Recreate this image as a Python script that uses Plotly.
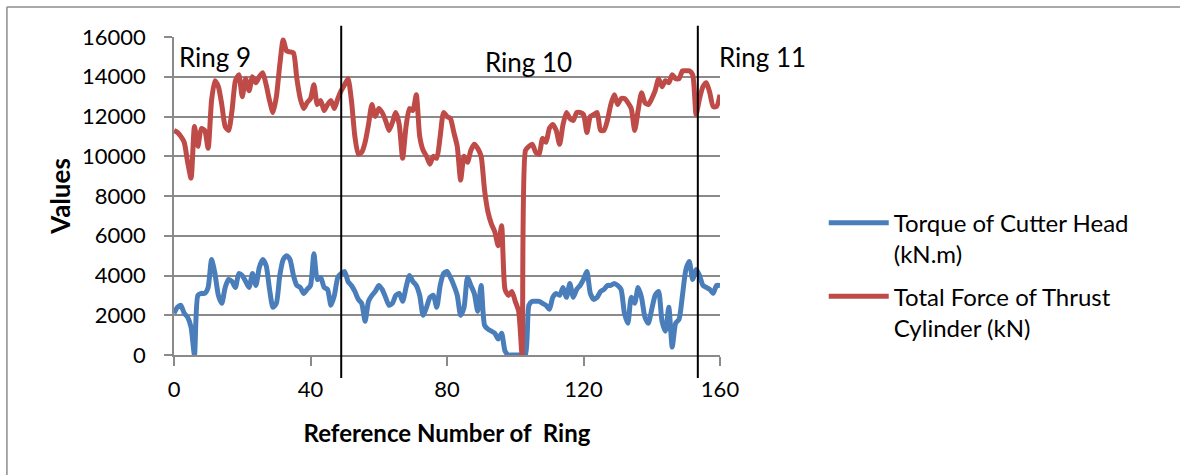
import plotly.graph_objects as go

# ---------------- data ----------------
ring_no = list(range(161))

torque = [
    2100, 2400, 2500, 2100, 1900, 1400, 0, 3000, 3100, 3100,
    3400, 4800, 4100, 3000, 2600, 3400, 3800, 3700, 3400, 4100,
    4000, 3700, 3400, 4100, 3500, 4400, 4800, 4500, 3300, 2400,
    2600, 4000, 4800, 5000, 4800, 4000, 3500, 3400, 3100, 3300,
    3500, 5100, 3800, 3900, 3400, 3300, 2500, 3000, 3900, 4100,
    4200, 3700, 3500, 3200, 2800, 2600, 1700, 2700, 3000, 3200,
    3500, 3300, 2900, 2500, 2600, 3000, 3100, 2700, 3400, 4000,
    3700, 3500, 3000, 2000, 2400, 2900, 3000, 2400, 3500, 4100,
    4200, 3900, 3500, 3000, 2000, 2400, 3900, 3500, 3100, 2200,
    3500, 1500, 1300, 1200, 1100, 800, 1100, 200, 0, 0,
    0, 0, 0, 0, 2500, 2700, 2700, 2700, 2600, 2500,
    2300, 2900, 3100, 3000, 3400, 2900, 3600, 2900, 3300, 3500,
    3800, 4200, 3100, 2800, 2900, 3200, 3300, 3500, 3500, 3600,
    3500, 3300, 2100, 1600, 2900, 2600, 3400, 2900, 1900, 1600,
    2300, 3000, 3200, 1700, 1200, 2400, 400, 1600, 1800, 3000,
    4300, 4700, 3800, 4300, 4000, 3500, 3400, 3300, 3100, 3500,
    3500,
]

thrust = [
    11300, 11200, 11000, 10700, 9700, 8900, 11500, 10500, 11400, 11300,
    10400, 12800, 13800, 13500, 12600, 11500, 11300, 12300, 13800, 14100,
    13000, 13900, 13300, 14000, 13700, 14000, 14200, 13600, 12800, 12200,
    13000, 14600, 15850, 15300, 15250, 15200, 13900, 12900, 12400, 12700,
    12900, 13600, 12600, 12800, 12300, 12600, 12800, 12400, 12900, 13300,
    13600, 13900, 12800, 11000, 10100, 10200, 10700, 11600, 12600, 12000,
    12400, 12200, 11800, 11300, 11700, 12200, 11600, 9900, 11500, 12400,
    12300, 13100, 11000, 10300, 10000, 9600, 10000, 9900, 11000, 12200,
    12000, 11900, 11200, 10500, 8800, 10000, 9700, 10300, 10600, 10400,
    10000, 8300, 7200, 6600, 6200, 5500, 6500, 3300, 3000, 3200,
    2700, 2200, 0, 10300, 10500, 10600, 10200, 10100, 10900, 10700,
    11400, 11600, 11300, 10600, 11600, 12200, 11900, 11800, 12200, 12200,
    12100, 11200, 12000, 12100, 12200, 11300, 11300, 11800, 12600, 13100,
    12600, 12900, 12900, 12700, 12400, 11300, 12300, 13200, 12700, 12600,
    12900, 13300, 13900, 13500, 13800, 13700, 14100, 13900, 13900, 14300,
    14300, 14300, 14100, 12100, 12900, 13500, 13700, 13200, 12500, 12500,
    13100,
]

ring_bounds = [49, 153.5]
ring_names = ["Ring 9", "Ring 10", "Ring 11"]
series_names = ["Torque of Cutter Head<br>(kN.m)", "Total Force of Thrust<br>Cylinder (kN)"]
x_tick_vals = [0, 40, 80, 120, 160]
y_tick_vals = [0, 2000, 4000, 6000, 8000, 10000, 12000, 14000, 16000]

# ---------------- figure ----------------
FONT = "Lato, 'Open Sans', sans-serif"
BLUE = "#4A7EBB"
RED = "#BE4B48"
GRID = "#8a8a8a"
X_MAX = 160.0

fig = go.Figure()
fig.add_trace(go.Scatter(
    x=ring_no, y=torque, mode="lines", name=series_names[0],
    line=dict(color=BLUE, width=5, shape="spline", smoothing=0.6),
    legendgroup="a",
))
fig.add_trace(go.Scatter(
    x=ring_no, y=thrust, mode="lines", name=series_names[1],
    line=dict(color=RED, width=5, shape="spline", smoothing=0.6),
    legendgroup="b",
))

# ring boundary lines (paper coords derived from the data value)
for b in ring_bounds:
    xp = b / X_MAX
    fig.add_shape(type="line", xref="paper", yref="paper",
                  x0=xp, x1=xp, y0=-0.072, y1=1.035,
                  line=dict(color="black", width=2))

# ring labels
lab_font = dict(size=26, color="black", family=FONT)
fig.add_annotation(x=1, y=14990, text=ring_names[0], showarrow=False,
                   xanchor="left", yanchor="middle", font=lab_font)
fig.add_annotation(x=104, y=14740, text=ring_names[1], showarrow=False,
                   xanchor="center", yanchor="middle", font=lab_font)
fig.add_annotation(x=159.2, y=14990, text=ring_names[2], showarrow=False,
                   xanchor="left", yanchor="middle", font=lab_font)

# outer chart border: only top and left edges are visible in the frame
border = dict(color="#8c8c8c", width=1.5)
fig.add_shape(type="line", xref="paper", yref="paper",
              x0=-0.306, x1=1.9, y0=1.094, y1=1.094, line=border)
fig.add_shape(type="line", xref="paper", yref="paper",
              x0=-0.306, x1=-0.306, y0=-0.5, y1=1.094, line=border)

fig.update_xaxes(
    range=[0, X_MAX], tickvals=x_tick_vals, ticktext=[str(v) for v in x_tick_vals],
    showgrid=False, zeroline=False,
    showline=True, linecolor=GRID, linewidth=1.5,
    ticks="outside", ticklen=9, tickwidth=1.5, tickcolor=GRID,
    tickfont=dict(size=22, color="black", family=FONT),
    ticklabelstandoff=5,
    title=dict(text="<b>Reference Number of  Ring</b>", font=dict(size=24, color="black", family=FONT), standoff=24),
)
fig.update_yaxes(
    range=[0, 16000], tickvals=y_tick_vals, ticktext=[str(v) for v in y_tick_vals],
    showgrid=True, gridcolor=GRID, gridwidth=1.5, zeroline=False,
    showline=True, linecolor=GRID, linewidth=1.5,
    ticks="outside", ticklen=8, tickwidth=1.5, tickcolor=GRID,
    tickfont=dict(size=22, color="black", family=FONT),
    ticklabelstandoff=14,
    title=dict(text="<b>Values</b>", font=dict(size=26, color="black", family=FONT), standoff=4),
)

fig.update_layout(
    width=1180, height=475,
    margin=dict(l=174, r=460, t=37, b=120),
    paper_bgcolor="white", plot_bgcolor="white",
    font=dict(family=FONT, color="black"),
    showlegend=True,
    legend=dict(
        x=1.19, y=0.485, xanchor="left", yanchor="top",
        font=dict(size=24, color="black", family=FONT),
        valign="top", tracegroupgap=8, itemwidth=60,
        bgcolor="rgba(0,0,0,0)",
    ),
)

page_js = (
    "document.body.style.margin='0';"
    "document.body.style.overflow='hidden';"
    "document.documentElement.style.overflow='hidden';"
)
fig.write_html("out.html", config={"displayModeBar": False}, post_script=page_js)
